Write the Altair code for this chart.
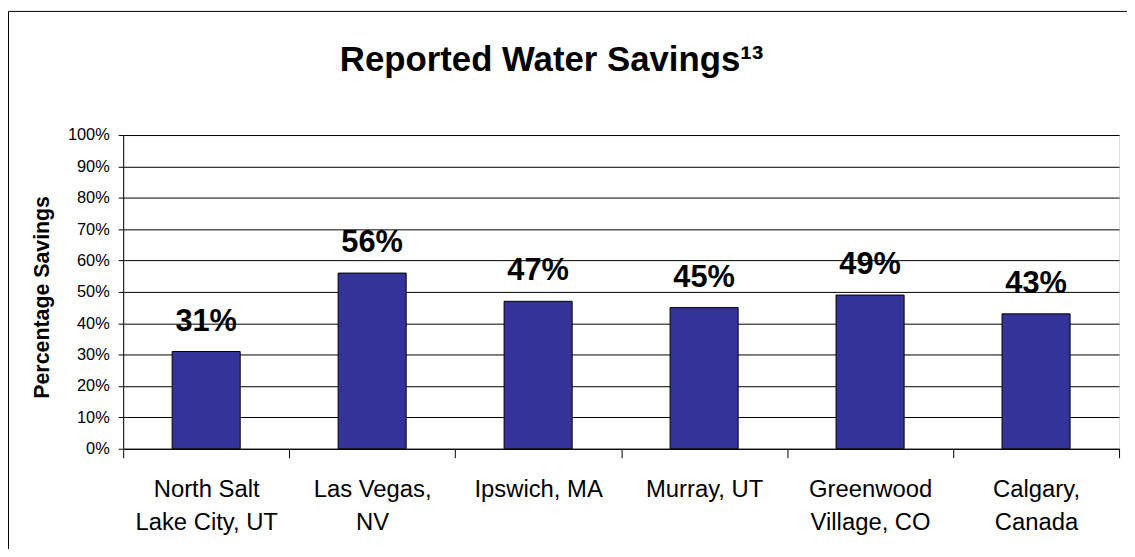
import altair as alt
import pandas as pd

categories = ["North Salt\nLake City, UT", "Las Vegas,\nNV", "Ipswich, MA",
              "Murray, UT", "Greenwood\nVillage, CO", "Calgary,\nCanada"]
savings = [31, 56, 47, 45, 49, 43]
y_ticks = [0, 10, 20, 30, 40, 50, 60, 70, 80, 90, 100]

df = pd.DataFrame({"city": categories, "savings": savings,
                   "label": [f"{v}%" for v in savings]})

FONT = "Liberation Sans"

x_enc = alt.X("city:N", sort=None, title=None,
              scale=alt.Scale(paddingInner=0, paddingOuter=0),
              axis=alt.Axis(labelAngle=0, tickBand="extent", ticks=True, tickSize=9,
                            tickColor="black", tickWidth=1, domainColor="black",
                            labelPadding=20, labelFontSize=24, labelLineHeight=33,
                            labelColor="black", labelFont=FONT,
                            labelExpr="split(datum.label, '\\n')", grid=False))
y_enc = alt.Y("savings:Q", title="Percentage Savings",
              scale=alt.Scale(domain=[0, 100], nice=False),
              axis=alt.Axis(values=y_ticks, labelExpr="datum.value + '%'",
                            labelOverlap=False, labelFlush=False,
                            labelFontSize=16.5, labelColor="black", labelFont=FONT,
                            ticks=True, tickSize=5, tickColor="black", domainColor="black",
                            labelPadding=9, grid=True, gridColor="black", gridWidth=1,
                            titleFont=FONT, titleFontSize=21.5, titleColor="black",
                            titleFontWeight="bold", titleX=-70, titleY=163,
                            titleBaseline="bottom"))

base = alt.Chart(df).encode(x=x_enc, y=y_enc)

bars = base.mark_bar(color="#333399", stroke="black", strokeWidth=1,
                     width=alt.RelativeBandSize(0.41))
labels = base.mark_text(font=FONT, fontSize=31, fontWeight="bold",
                        color="black", baseline="alphabetic", dy=-21).encode(
    text="label:N")

border = alt.Chart(pd.DataFrame({"b": [0]})).mark_rect(
    fillOpacity=0, stroke="black", strokeWidth=1).encode(
    x=alt.value(-115.5), x2=alt.value(1200), y=alt.value(-124.5), y2=alt.value(600))

chart = alt.layer(bars, labels, border).properties(
    width=1003, height=316,
    autosize=alt.AutoSizeParams(type="none"),
    padding={"left": 116, "top": 126, "right": 8, "bottom": 99},
    title=alt.TitleParams("Reported Water Savings\u00b9\u00b3", font=FONT, fontSize=35,
                          fontWeight="bold", color="black", anchor="middle",
                          baseline="alphabetic", offset=0, dx=-70, dy=96),
).configure_view(stroke="#808080", strokeWidth=1).configure(background="white")

chart.save("out.html", embed_options={"renderer": "svg", "actions": False})
